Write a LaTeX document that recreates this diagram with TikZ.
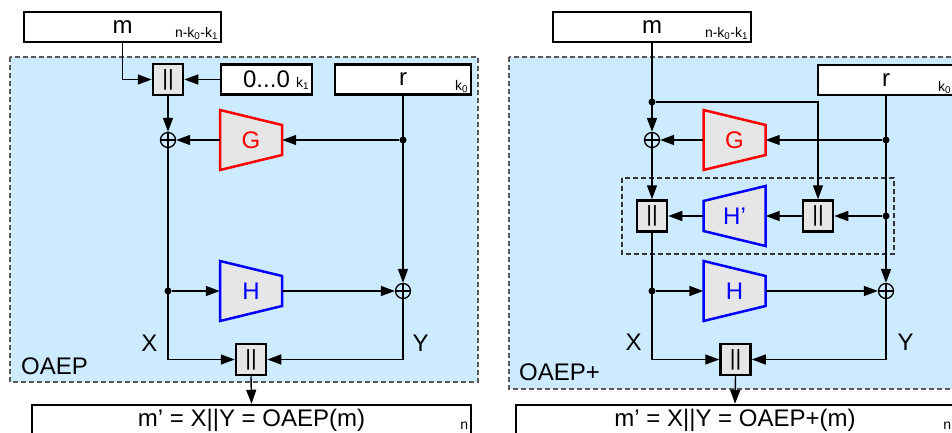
\documentclass[tikz,border=0pt]{standalone}
\usepackage{fontspec}
\setmainfont{Liberation Sans}
\usetikzlibrary{positioning, calc, arrows.meta}

\definecolor{panelblue}{RGB}{204,235,255}
\definecolor{boxgray}{RGB}{230,230,230}

% Hashfunktion als Trapez: Name, Position, Farbe, Text, Richtung (1 / -1)
\newcommand{\hashfn}[5]{%
  \begin{scope}[shift={#2}]
    \draw[fnline, draw=#3, xscale=#5] (-31,-30) -- (31,-15) -- (31,15) -- (-31,30) -- cycle;
  \end{scope}
  \node[fn, text=#3] (#1) at #2 {#4};
}

\begin{document}
\begin{tikzpicture}[x=1pt, y=-1pt,
            field/.style={draw=black, line width=2.5pt, fill=white, minimum height=30pt, inner sep=0pt, font=\fontsize{24}{28}\selectfont},
            concat/.style={draw=black, line width=2.5pt, fill=boxgray, minimum width=30pt, minimum height=31pt, inner sep=0pt, font=\fontsize{22}{26}\selectfont},
            xor/.style={circle, draw=black, line width=1.3pt, minimum size=15pt, inner sep=0pt,
                path picture={\draw[line width=1.3pt] (path picture bounding box.north) -- (path picture bounding box.south)
                    (path picture bounding box.west) -- (path picture bounding box.east);}},
            dot/.style={circle, fill=black, minimum size=7pt, inner sep=0pt},
            fn/.style={minimum width=62pt, minimum height=60pt, inner sep=0pt, font=\fontsize{24}{28}\selectfont},
            fnline/.style={line width=2.5pt, fill=boxgray},
            edge/.style={line width=1.4pt},
            arr/.style={edge, -{Triangle[length=14pt, width=10pt]}},
            sub/.style={anchor=base east, inner sep=0pt, font=\fontsize{14}{16}\selectfont},
            lbl/.style={inner sep=0pt, font=\fontsize{24}{28}\selectfont},
            panel/.style={draw=black!65, fill=panelblue, line width=1.3pt, dash pattern=on 5pt off 3pt}
        ]
        \useasboundingbox (0,0) rectangle (952,433);
        \clip (0,0) rectangle (952,433);

        % Rahmen
        \draw[panel] (10,57) rectangle (478,382);
        \draw[panel] (509,57) rectangle (970,389);
        \draw[draw=black!80, line width=1.2pt, dash pattern=on 5pt off 3pt] (622,178) rectangle (894,254);

        % Funktionen
        \hashfn{GL}{(251,140)}{red}{G}{1}
        \hashfn{HL}{(251,291)}{blue}{H}{1}
        \hashfn{GR}{(734.5,140)}{red}{G}{1}
        \hashfn{HpR}{(734.5,216)}{blue}{H’}{-1}
        \hashfn{HR}{(734.5,291)}{blue}{H}{1}

        % Knoten OAEP
        \node[field, minimum width=197pt] (mL) at (122.5,27) {m};
        \node[sub] (mLsub) at ($(mL.south east)+(-4,-6)$) {n-k\textsubscript{0}-k\textsubscript{1}};
        \node[concat] (catL1) at (168,79.5) {||};
        \node[field, minimum width=91pt] (zL) at (266.5,79.5) {0...0};
        \node[sub] (zLsub) at ($(zL.south east)+(-4,-8)$) {k\textsubscript{1}};
        \node[field, minimum width=136pt] (rL) at (403,79.5) {r};
        \node[sub] (rLsub) at ($(rL.south east)+(-4,-5)$) {k\textsubscript{0}};
        \node[xor] (xL1) at (168,140) {};
        \node[dot] (dGL) at (403,140) {};
        \node[dot] (dXL) at (168,291) {};
        \node[xor] (xL2) at (403,291) {};
        \node[concat] (catL2) at (251,359.5) {||};
        \node[lbl] (XL) at (149.5,343.5) {X};
        \node[lbl] (YL) at (420.5,343.5) {Y};
        \node[lbl, anchor=west] (nameL) at (21,366) {OAEP};
        \node[field, minimum width=439pt] (outL) at (251.5,420) {m’ = X||Y = OAEP(m)};
        \node[sub] (outLsub) at ($(outL.south east)+(-4,-7)$) {n};

        % Kanten OAEP
        \draw[arr] (mL.south) |- (catL1.west);
        \draw[arr] (zL.west) -- (catL1.east);
        \draw[arr] (catL1.south) -- (xL1.north);
        \draw[arr] (rL.south) -- (xL2.north);
        \draw[arr] (dGL) -- (GL.east);
        \draw[arr] (GL.west) -- (xL1.east);
        \draw[arr] (xL1.south) |- (catL2.west);
        \draw[arr] (dXL) -- (HL.west);
        \draw[arr] (HL.east) -- (xL2.west);
        \draw[arr] (xL2.south) |- (catL2.east);
        \draw[arr] (catL2.south) -- (outL.north);

        % Knoten OAEP+
        \node[field, minimum width=198pt] (mR) at (652,27) {m};
        \node[sub] (mRsub) at ($(mR.south east)+(-4,-6)$) {n-k\textsubscript{0}-k\textsubscript{1}};
        \node[field, minimum width=136pt] (rR) at (886,80) {r};
        \node[sub] (rRsub) at ($(rR.south east)+(-4,-5)$) {k\textsubscript{0}};
        \node[dot] (dMR) at (652,102) {};
        \node[xor] (xR1) at (652,140) {};
        \node[dot] (dGR) at (886,140) {};
        \node[concat] (catR1) at (652,216) {||};
        \node[concat] (catR2) at (818,216) {||};
        \node[dot] (dHpR) at (886,216) {};
        \node[dot] (dXR) at (652,291) {};
        \node[xor] (xR2) at (886,291) {};
        \node[concat] (catR3) at (735.5,359.5) {||};
        \node[lbl] (XR) at (633.5,342.5) {X};
        \node[lbl] (YR) at (905.5,342.5) {Y};
        \node[lbl, anchor=west] (nameR) at (519,372) {OAEP+};
        \node[field, minimum width=438pt] (outR) at (735,420) {m’ = X||Y = OAEP+(m)};
        \node[sub] (outRsub) at ($(outR.south east)+(-4,-7)$) {n};

        % Kanten OAEP+
        \draw[arr] (mR.south) -- (xR1.north);
        \draw[arr] (dMR) -| (catR2.north);
        \draw[arr] (rR.south) -- (xR2.north);
        \draw[arr] (dGR) -- (GR.east);
        \draw[arr] (GR.west) -- (xR1.east);
        \draw[arr] (xR1.south) -- (catR1.north);
        \draw[arr] (dHpR) -- (catR2.east);
        \draw[arr] (catR2.west) -- (HpR.east);
        \draw[arr] (HpR.west) -- (catR1.east);
        \draw[arr] (catR1.south) |- (catR3.west);
        \draw[arr] (dXR) -- (HR.west);
        \draw[arr] (HR.east) -- (xR2.west);
        \draw[arr] (xR2.south) |- (catR3.east);
        \draw[arr] (catR3.south) -- (outR.north);

\end{tikzpicture}
\end{document}
